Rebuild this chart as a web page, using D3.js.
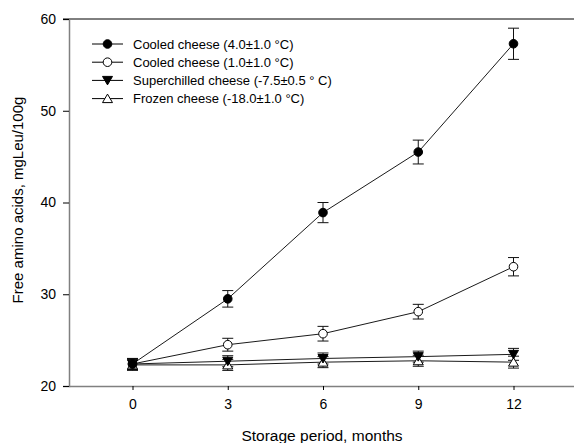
<!DOCTYPE html>
<html><head><meta charset="utf-8">
<script src="https://cdn.jsdelivr.net/npm/d3@7"></script>
<style>body{margin:0;background:#fff}svg{display:block;font-family:"Liberation Sans",Arial,sans-serif}</style>
</head><body><svg id="c" width="574" height="443"></svg>
<script>
const months = [0, 3, 6, 9, 12];
const xTicks = [0, 3, 6, 9, 12];
const yTicks = [20, 30, 40, 50, 60];
const seriesNames = ["Cooled cheese (4.0±1.0 °C)", "Cooled cheese (1.0±1.0 °C)", "Superchilled cheese (-7.5±0.5 ° C)", "Frozen cheese (-18.0±1.0 °C)"];
const cooled4 = [22.4, 29.5, 38.9, 45.5, 57.3];
const cooled4Err = [0.6, 0.9, 1.1, 1.3, 1.7];
const cooled1 = [22.4, 24.5, 25.7, 28.1, 33.0];
const cooled1Err = [0.6, 0.7, 0.8, 0.8, 1.0];
const superchilled = [22.4, 22.7, 23.0, 23.2, 23.45];
const superchilledErr = [0.6, 0.6, 0.6, 0.6, 0.65];
const frozen = [22.3, 22.3, 22.6, 22.75, 22.6];
const frozenErr = [0.6, 0.6, 0.6, 0.6, 0.65];

const svg = d3.select("#c");
const x = d3.scaleLinear().domain([-2, 14]).range([69, 577]);
const y = d3.scaleLinear().domain([20, 60]).range([386, 19]);

// top frame line
svg.append("line").attr("x1", 63).attr("x2", 574).attr("y1", y(60)).attr("y2", y(60)).attr("stroke", "#000").attr("stroke-width", 1);

// axes
const gy = svg.append("g").attr("transform", "translate(69,0)").call(d3.axisLeft(y).tickValues(yTicks).tickSize(6).tickPadding(7).tickFormat(d3.format("d")));
gy.select(".domain").attr("stroke", "#808080").attr("stroke-width", 1.5);
gy.selectAll(".tick line").attr("stroke", "#000");
gy.selectAll("text").attr("font-size", 14).attr("fill", "#000").attr("font-family", "Liberation Sans, Arial, sans-serif");

const gx = svg.append("g").attr("transform", "translate(0,386)").call(d3.axisBottom(x).tickValues(xTicks).tickSize(4).tickPadding(9).tickSizeOuter(0));
gx.select(".domain").attr("stroke", "#808080").attr("stroke-width", 1.5);
gx.selectAll(".tick line").attr("stroke", "#000");
gx.selectAll("text").attr("font-size", 14).attr("fill", "#000").attr("font-family", "Liberation Sans, Arial, sans-serif");

svg.append("text").attr("x", 322).attr("y", 441).attr("text-anchor", "middle").attr("font-size", 15.5).text("Storage period, months");
svg.append("text").attr("transform", "translate(23,200) rotate(-90)").attr("text-anchor", "middle").attr("font-size", 15).text("Free amino acids, mgLeu/100g");

const series = [
  {vals: cooled4, err: cooled4Err, shape: "circle", fill: "#000"},
  {vals: cooled1, err: cooled1Err, shape: "circle", fill: "#fff"},
  {vals: superchilled, err: superchilledErr, shape: "down", fill: "#000"},
  {vals: frozen, err: frozenErr, shape: "up", fill: "#fff"}
];

function marker(g, shape, fill, cx, cy) {
  if (shape === "circle") {
    g.append("circle").attr("cx", cx).attr("cy", cy).attr("r", 4.3).attr("fill", fill).attr("stroke", "#000").attr("stroke-width", 1);
  } else {
    const s = 5;
    const pts = shape === "down"
      ? [[cx - s, cy - s * 0.8], [cx + s, cy - s * 0.8], [cx, cy + s * 0.9]]
      : [[cx - s, cy + s * 0.8], [cx + s, cy + s * 0.8], [cx, cy - s * 0.9]];
    g.append("polygon").attr("points", pts.map(p => p.join(",")).join(" ")).attr("fill", fill).attr("stroke", "#000").attr("stroke-width", 1);
  }
}

const line = d3.line().x((d, i) => x(months[i])).y(d => y(d));
series.slice().reverse().forEach(s => {
  svg.append("path").attr("d", line(s.vals)).attr("fill", "none").attr("stroke", "#1a1a1a").attr("stroke-width", 1);
});
series.forEach(s => {
  s.vals.forEach((v, i) => {
    const cx = x(months[i]);
    const g = svg.append("g").attr("stroke", "#111").attr("stroke-width", 1);
    g.append("line").attr("x1", cx).attr("x2", cx).attr("y1", y(v + s.err[i])).attr("y2", y(v - s.err[i]));
    g.append("line").attr("x1", cx - 5.5).attr("x2", cx + 5.5).attr("y1", y(v + s.err[i])).attr("y2", y(v + s.err[i]));
    g.append("line").attr("x1", cx - 5.5).attr("x2", cx + 5.5).attr("y1", y(v - s.err[i])).attr("y2", y(v - s.err[i]));
  });
});
series.slice().reverse().forEach(s => {
  const g = svg.append("g");
  s.vals.forEach((v, i) => marker(g, s.shape, s.fill, x(months[i]), y(v)));
});

const leg = svg.append("g");
series.forEach((s, i) => {
  const ly = 44 + i * 18.2;
  leg.append("line").attr("x1", 92).attr("x2", 123).attr("y1", ly).attr("y2", ly).attr("stroke", "#000").attr("stroke-width", 1);
  marker(leg, s.shape, s.fill, 107.5, ly);
  leg.append("text").attr("x", 133).attr("y", ly).attr("dy", "0.36em").attr("font-size", 13).text(seriesNames[i]);
});
</script></body></html>
